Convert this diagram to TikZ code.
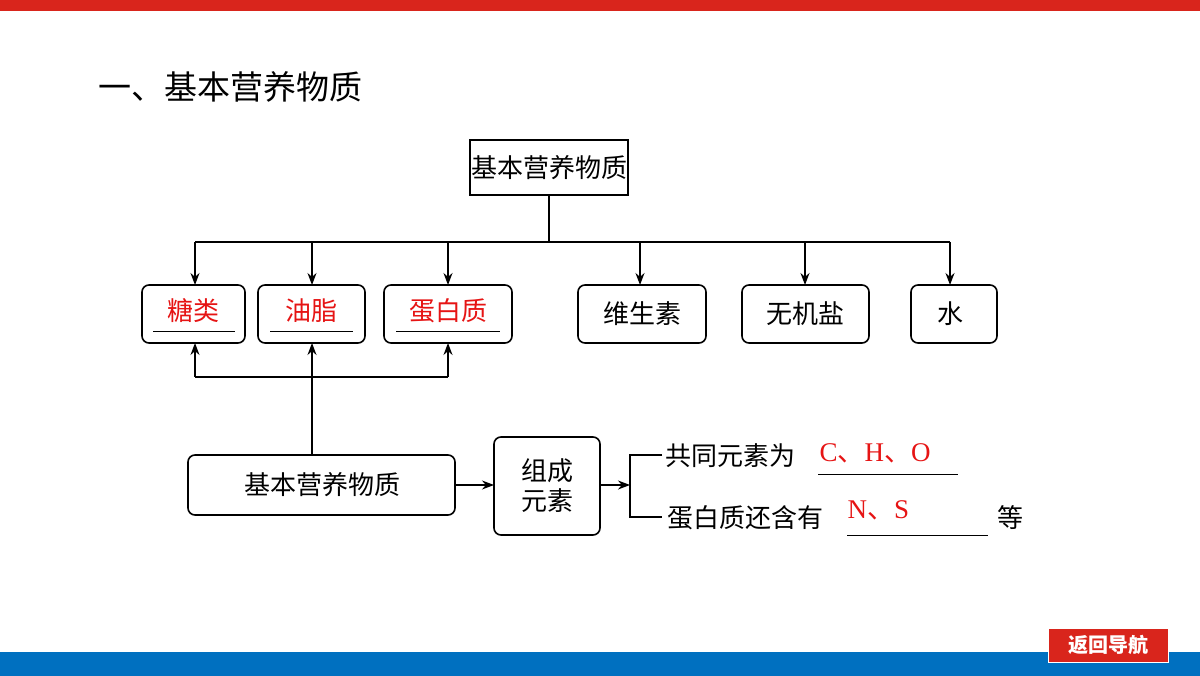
\documentclass[tikz,border=0pt]{standalone}
\usepackage{fontspec}
\setmainfont{Liberation Serif}
\newfontfamily\cjk{Noto Sans CJK SC}
\usetikzlibrary{arrows.meta}
\definecolor{topred}{RGB}{217,37,28}
\definecolor{botblue}{RGB}{0,112,192}
\definecolor{ansred}{RGB}{230,20,20}
\begin{document}
\begin{tikzpicture}[x=1pt,y=-1pt,
  box/.style={draw,line width=1.6pt,rounded corners=7pt},
  sq/.style={draw,line width=1.6pt},
  ln/.style={line width=1.4pt},
  arr/.style={ln,-{Stealth[length=12pt,width=9pt]}},
  t/.style={font=\cjk\fontsize{26}{30}\selectfont},
  rt/.style={font=\cjk\fontsize{26}{30}\selectfont,text=ansred},
  ul/.style={line width=1pt}]
\useasboundingbox (0,0) rectangle (1200,676);
\fill[white] (0,0) rectangle (1200,676);
\fill[topred] (0,0) rectangle (1200,11);
\fill[botblue] (0,652) rectangle (1200,676);
\node[draw=white,line width=1pt,fill=topred,minimum width=120pt,minimum height=34pt,text=white,font=\cjk\fontsize{20}{22}\selectfont\bfseries] (nav) at (1108,645) {返回导航};
\node[anchor=west,font=\cjk\fontsize{33}{36}\selectfont] (title) at (95,87) {一、基本营养物质};
% top box
\draw[sq] (470,140) rectangle (628,195);
\node[t] (top) at (549,168) {基本营养物质};
% level boxes
\draw[box] (142,285) rectangle (245,343); \node[rt] (a) at (193,311) {糖类};
\draw[box] (258,285) rectangle (365,343); \node[rt] (b) at (311,311) {油脂};
\draw[box] (384,285) rectangle (512,343); \node[rt] (c) at (448,311) {蛋白质};
\draw[box] (578,285) rectangle (706,343); \node[t] (d) at (642,314) {维生素};
\draw[box] (742,285) rectangle (869,343); \node[t] (e) at (805,314) {无机盐};
\draw[box] (911,285) rectangle (997,343); \node[t] (f) at (950,314) {水};
\draw[ul] (153,332) -- (235,332);
\draw[ul] (270,332) -- (353,332);
\draw[ul] (396,332) -- (500,332);
% tree
\coordinate (j) at (549,242);
\draw[ln] (549,195) -- (j);
\draw[ln] (195,242) -- (950,242);
\foreach \x in {195,312,448,640,805,950}{\draw[arr] (\x,242) -- (\x,285);}
% lower
\draw[box] (188,455) rectangle (455,515);
\node[t] (base) at (322,485) {基本营养物质};
\draw[ln] (195,377) -- (448,377);
\draw[arr] (195,377) -- (195,343);
\draw[arr] (448,377) -- (448,343);
\draw[arr] (312,455) -- (312,343);
\draw[box] (494,437) rectangle (600,535);
\node[t,align=center] (comp) at (547,486) {组成\\元素};
\draw[arr] (455,485) -- (494,485);
\draw[arr] (600,485) -- (630,485);
\draw[ln] (662,455) -- (630,455) -- (630,517) -- (662,517);
\node[t,anchor=west] (s1) at (662,456) {共同元素为};
\node[font=\fontsize{27}{30}\selectfont,text=ansred,anchor=west] (r1) at (816,453) {C{\cjk 、}H{\cjk 、}O};
\draw[ul] (818,474) -- (958,474);
\node[t,anchor=west] (s2) at (664,518) {蛋白质还含有};
\node[font=\fontsize{27}{30}\selectfont,text=ansred,anchor=west] (r2) at (844,510) {N{\cjk 、}S};
\draw[ul] (847,535) -- (988,535);
\node[t] (deng) at (1010,518) {等};
\end{tikzpicture}
\end{document}
